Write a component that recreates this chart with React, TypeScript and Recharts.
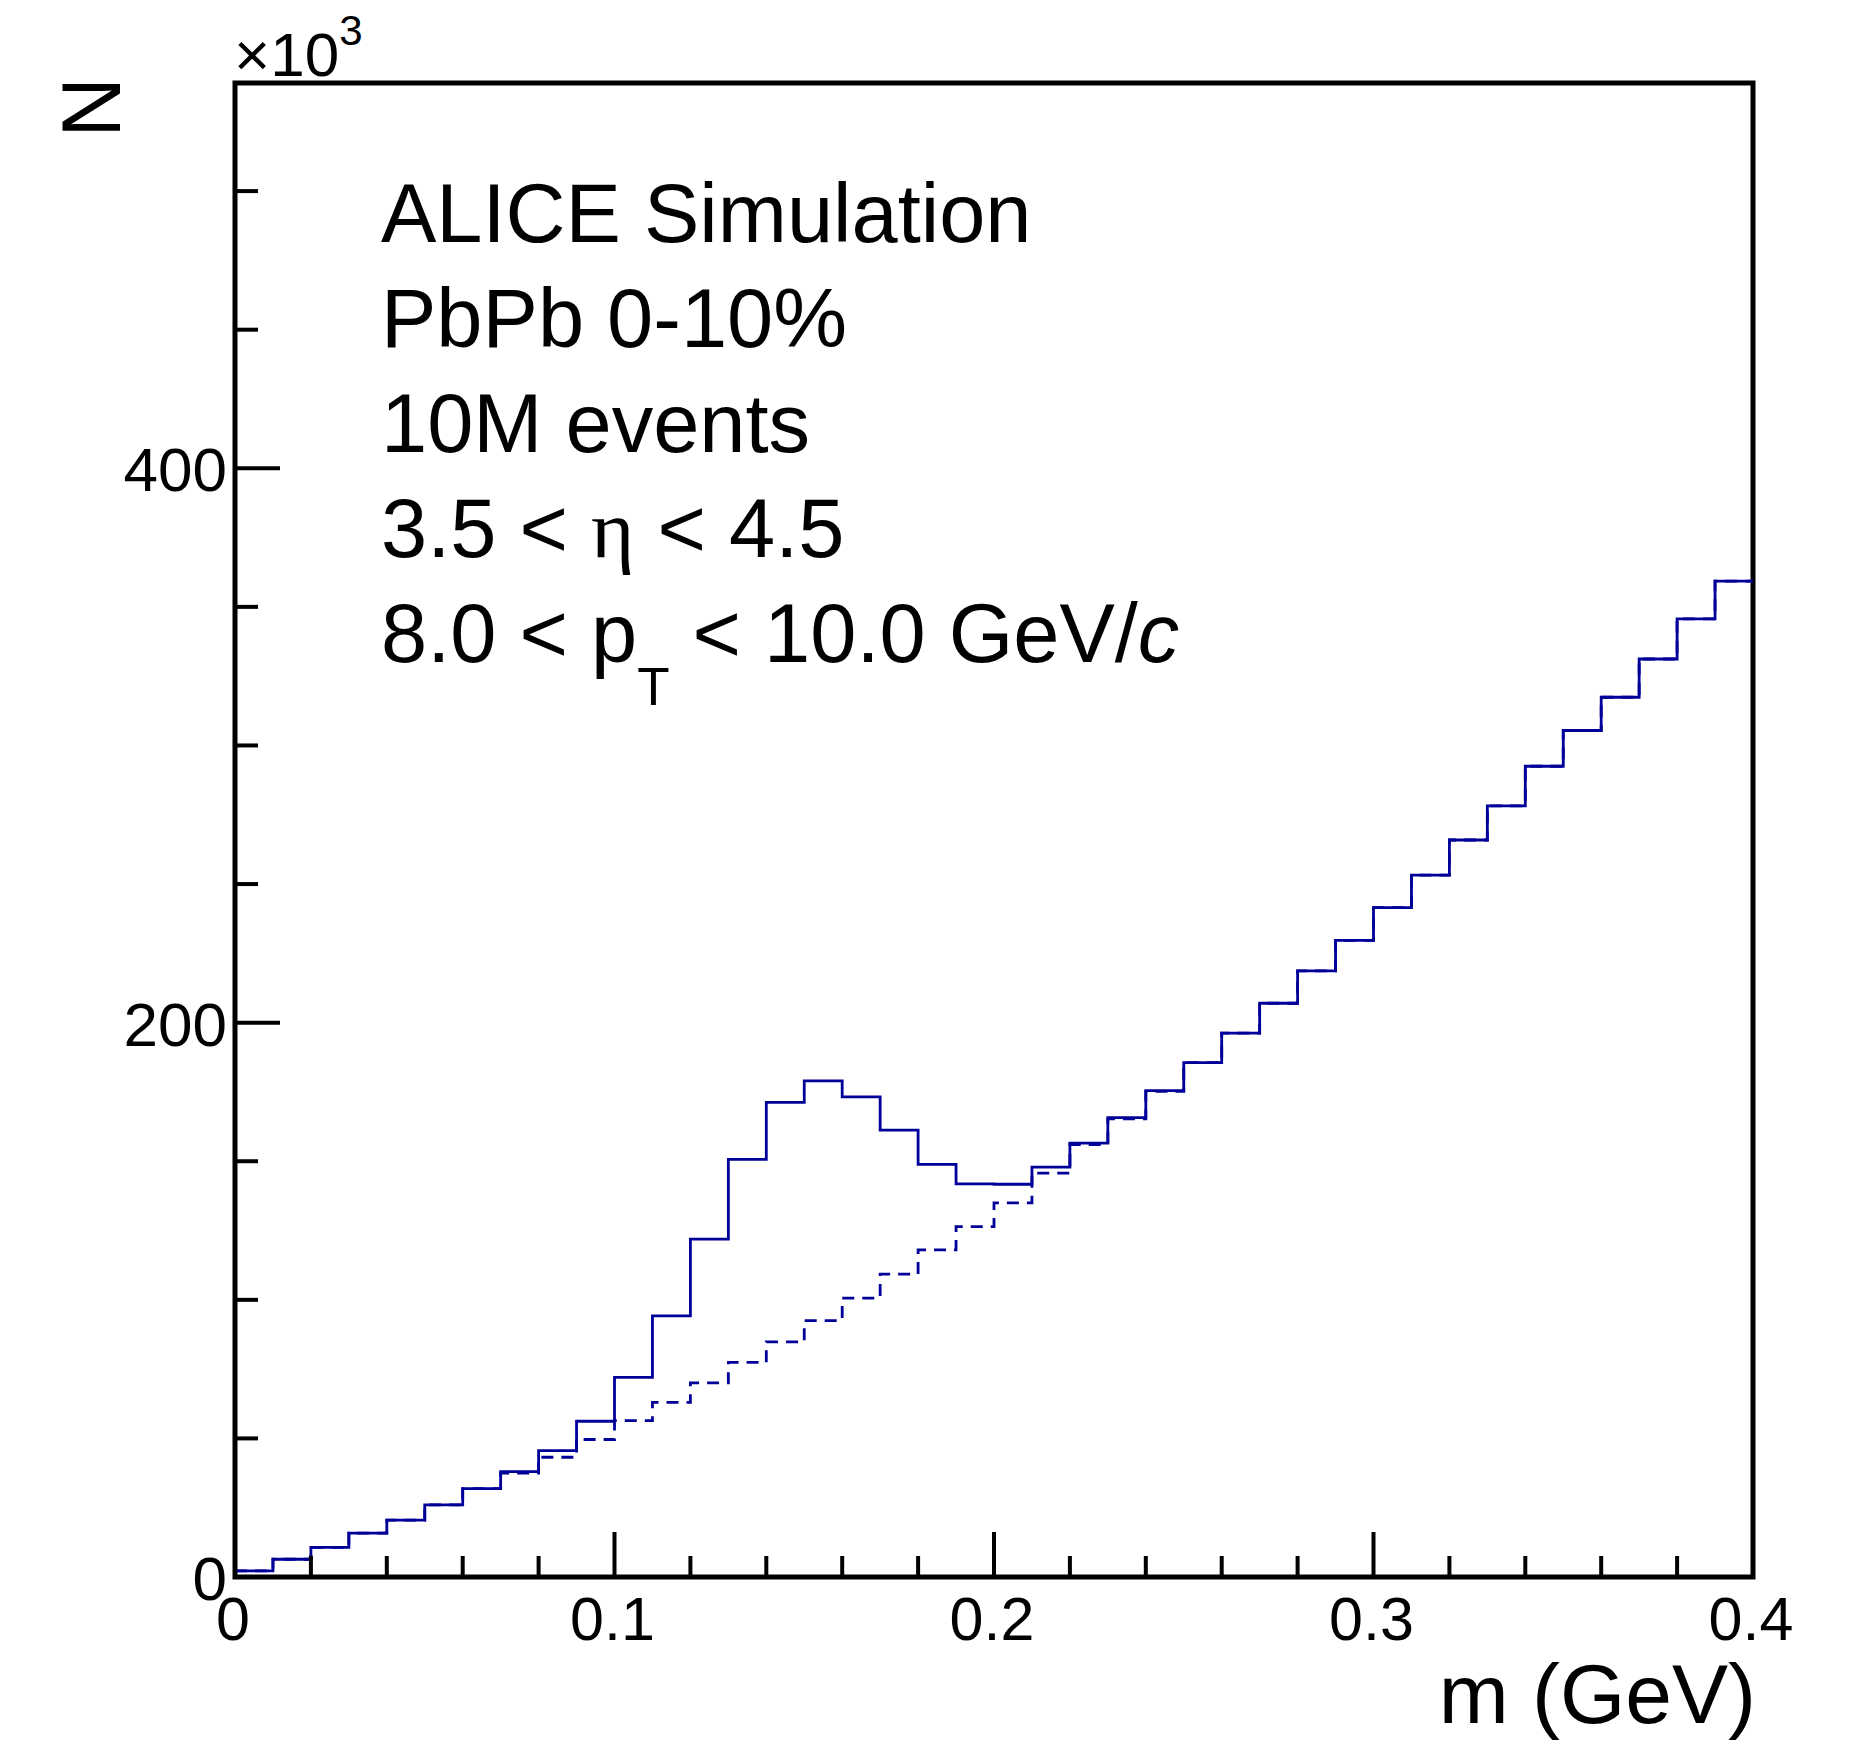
import { ComposedChart, Line, XAxis, YAxis, ReferenceArea } from 'recharts'

// bin low edges (0.01 GeV bins), last entry closes the final bin
const BIN_EDGES = [
  0, 0.01, 0.02, 0.03, 0.04, 0.05, 0.06, 0.07, 0.08, 0.09,
  0.1, 0.11, 0.12, 0.13, 0.14, 0.15, 0.16, 0.17, 0.18, 0.19,
  0.2, 0.21, 0.22, 0.23, 0.24, 0.25, 0.26, 0.27, 0.28, 0.29,
  0.3, 0.31, 0.32, 0.33, 0.34, 0.35, 0.36, 0.37, 0.38, 0.39, 0.4,
]

// signal + background, in units of 10^3
const SIGNAL_BKG = [
  2.2, 6.4, 10.7, 15.8, 20.5, 26.0, 31.9, 38.0, 45.6, 56.2,
  72.0, 94.2, 121.9, 150.7, 171.2, 179.0, 173.2, 161.2, 148.9, 141.8,
  141.7, 147.9, 156.5, 165.7, 175.5, 185.6, 196.2, 207.0, 218.7, 229.7,
  241.5, 253.2, 265.9, 278.2, 292.5, 305.4, 317.4, 331.2, 345.7, 359.3,
]

// background only (dashed)
const BKG = [
  2.2, 6.4, 10.7, 15.8, 20.5, 26.0, 31.9, 37.5, 43.2, 49.6,
  56.4, 63.0, 70.0, 77.4, 84.8, 92.5, 100.6, 109.3, 118.0, 126.4,
  135.0, 145.7, 156.0, 165.3, 175.2, 185.6, 196.2, 207.0, 218.7, 229.7,
  241.5, 253.2, 265.9, 278.2, 292.5, 305.4, 317.4, 331.2, 345.7, 359.3,
]

const X_TICKS = [0, 0.02, 0.04, 0.06, 0.08, 0.1, 0.12, 0.14, 0.16, 0.18, 0.2, 0.22, 0.24, 0.26, 0.28, 0.3, 0.32, 0.34, 0.36, 0.38, 0.4]
const Y_TICKS = [0, 50, 100, 150, 200, 250, 300, 350, 400, 450, 500]
const Y_MAX = 539

const LINES = [
  'ALICE Simulation',
  'PbPb 0-10%',
  '10M events',
]

const FONT = '"Liberation Sans", Arial, Helvetica, sans-serif'
const HIST_COLOR = '#000099'

const data = BIN_EDGES.map((x, i) => {
  const b = Math.min(i, SIGNAL_BKG.length - 1)
  return { x, solid: SIGNAL_BKG[b], dashed: BKG[b] }
})

// tickSize and tickMargin are 0, so x/y is the axis line itself
function XTick(props: any) {
  const { x, y, payload } = props
  const v = payload.value as number
  const major = Math.abs(v * 10 - Math.round(v * 10)) < 1e-6
  return (
    <g>
      <line x1={x} x2={x} y1={y} y2={y - (major ? 45 : 21)} stroke="#000" strokeWidth={4} />
      {major && (
        <text x={x - 2} y={y + 63} textAnchor="middle" fontSize={61} fontFamily={FONT} fill="#000">
          {v === 0 ? '0' : v.toFixed(1)}
        </text>
      )}
    </g>
  )
}

function YTick(props: any) {
  const { x, y, payload } = props
  const v = payload.value as number
  const major = v % 200 === 0
  return (
    <g>
      <line x1={x} x2={x + (major ? 45 : 23)} y1={y} y2={y} stroke="#000" strokeWidth={4} />
      {major && (
        <text x={x - 8} y={y + 23} textAnchor="end" fontSize={62} fontFamily={FONT} fill="#000">
          {v}
        </text>
      )}
    </g>
  )
}

export default function App() {
  return (
    <div style={{ position: 'absolute', left: 0, top: 0, width: 1860, height: 1740, background: '#fff' }}>
      <ComposedChart width={1860} height={1740} data={data}
        margin={{ top: 83, right: 107, bottom: 83, left: 155 }}>
        <ReferenceArea x1={0} x2={0.4} y1={0} y2={Y_MAX} fill="none" stroke="#000" strokeWidth={5} ifOverflow="visible" />
        <Line dataKey="dashed" type="stepAfter" stroke={HIST_COLOR} strokeWidth={2.8} strokeDasharray="12 8"
          dot={false} activeDot={false} isAnimationActive={false} />
        <Line dataKey="solid" type="stepAfter" stroke={HIST_COLOR} strokeWidth={2.8}
          dot={false} activeDot={false} isAnimationActive={false} />
        <XAxis dataKey="x" type="number" domain={[0, 0.4]} ticks={X_TICKS} interval={0}
          height={80} tickSize={0} tickMargin={0} axisLine={false} tickLine={false} tick={<XTick />}
          allowDataOverflow />
        <YAxis type="number" domain={[0, Y_MAX]} ticks={Y_TICKS} interval={0}
          width={80} tickSize={0} tickMargin={0} axisLine={false} tickLine={false} tick={<YTick />}
          allowDataOverflow />
      </ComposedChart>
      <svg width={1860} height={1740} style={{ position: 'absolute', left: 0, top: 0, pointerEvents: 'none' }}>
        <g fontFamily={FONT} fill="#000">
          {LINES.map((t, i) => (
            <text key={t} x={381} y={242 + i * 105} fontSize={83}>{t}</text>
          ))}
          <text x={381} y={557} fontSize={83}>
            3.5 &lt; <tspan fontFamily='"Liberation Serif", "DejaVu Serif", serif'>η</tspan> &lt; 4.5
          </text>
          <text x={381} y={662} fontSize={83}>
            8.0 &lt; p<tspan fontSize={53} dy={43}>T</tspan><tspan dy={-43}> &lt; 10.0 GeV/</tspan><tspan fontStyle="italic">c</tspan>
          </text>
          <text transform="translate(120,77) rotate(-90)" textAnchor="end" fontSize={84}>N</text>
          <text x={234} y={76} fontSize={62}>
            ×10<tspan fontSize={42} dy={-31}>3</tspan>
          </text>
          <text x={1756} y={1723} textAnchor="end" fontSize={84}>m (GeV)</text>
        </g>
      </svg>
    </div>
  )
}
